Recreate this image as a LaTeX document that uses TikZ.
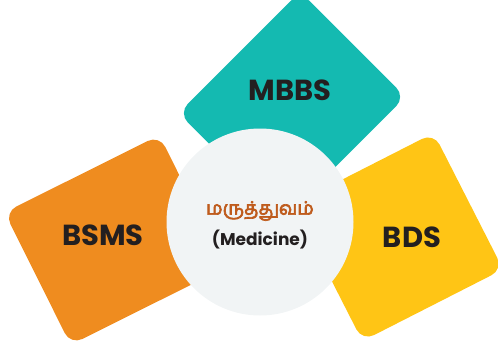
\documentclass[tikz,border=0pt]{standalone}
\usepackage{fontspec}
\setmainfont{Poppins}
\newfontfamily\tamilfont[Script=Tamil,FakeBold=3.5]{Hind Madurai}
\definecolor{mbbsteal}{HTML}{14BAB1}
\definecolor{bsmsorange}{HTML}{EF8C1F}
\definecolor{bdsyellow}{HTML}{FFC515}
\definecolor{hubgray}{HTML}{F1F4F5}
\definecolor{tamilbrown}{HTML}{BF5B1C}
\definecolor{labelink}{HTML}{231F20}
\begin{document}
\begin{tikzpicture}[x=1pt,y=-1pt,
        card/.style={rectangle,rounded corners=13pt,inner sep=0pt},
        cardlabel/.style={font=\bfseries\fontsize{29}{29}\selectfont,text=labelink}]
        \useasboundingbox (0,0) rectangle (498,345);
        % the three course cards
        \node[card,fill=mbbsteal,minimum width=172pt,minimum height=149pt,rotate=45] (mbbsbox) at (292,105) {};
        \node[card,fill=bsmsorange,minimum width=173pt,minimum height=148pt,rotate=26.5] (bsmsbox) at (115,240) {};
        \node[card,fill=bdsyellow,minimum width=158pt,minimum height=153pt,rotate=27] (bdsbox) at (398,237) {};
        % centre disc
        \node[circle,fill=hubgray,minimum size=187pt,inner sep=0pt] (hub) at (260,222) {};
        \node[font=\tamilfont\fontsize{18.5}{18.5}\selectfont,text=tamilbrown] (tamil) at (260,211) {மருத்துவம்};
        \node[font=\bfseries\fontsize{17}{17}\selectfont,text=labelink] (medicine) at (260,240) {(Medicine)};
        % labels
        \node[cardlabel] (mbbs) at (290,90) {MBBS};
        \node[cardlabel] (bsms) at (103,235) {BSMS};
        \node[cardlabel] (bds) at (412,237) {BDS};
\end{tikzpicture}
\end{document}
